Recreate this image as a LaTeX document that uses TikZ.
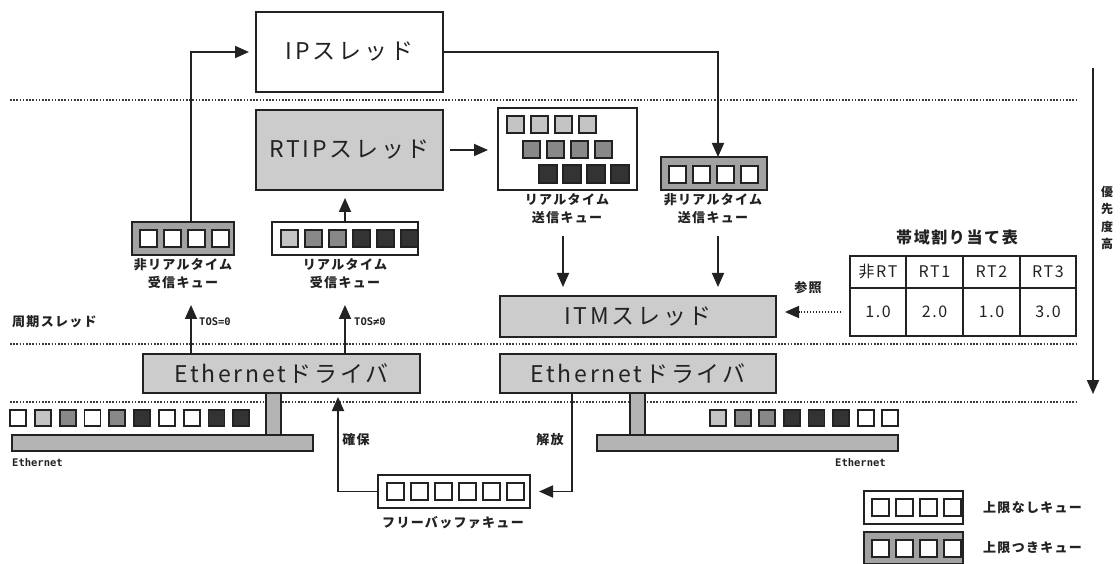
\documentclass[tikz,border=0pt]{standalone}
\usepackage{fontspec}
\setmainfont{Noto Sans CJK JP}
\newfontfamily\jpbig[LetterSpace=12]{Noto Sans CJK JP}
\newfontfamily\jpsm[LetterSpace=10]{Noto Sans CJK JP}
\newfontfamily\monof{DejaVu Sans Mono}
\usetikzlibrary{arrows.meta}
\definecolor{ink}{HTML}{222222}
\definecolor{tone}{HTML}{CCCCCC}
\definecolor{tonedark}{HTML}{A2A2A2}
\definecolor{tonebus}{HTML}{B4B4B4}
\definecolor{sqL}{HTML}{C4C4C4}
\definecolor{sqM}{HTML}{888888}
\definecolor{sqD}{HTML}{333333}
\definecolor{dotc}{HTML}{3A3A3A}
\tikzset{
  box/.style={draw=ink, line width=2.1pt, inner sep=0pt, outer sep=0pt},
  thread/.style={box, fill=tone, text=ink, font=\jpbig\fontsize{23}{24}\selectfont},
  queue/.style={box, minimum height=33pt},
  arr/.style={draw=ink, line width=1.8pt, -{Triangle[length=14pt,width=12pt]}},
  refarr/.style={draw=ink, line width=1.5pt, dash pattern=on 1.5pt off 1.5pt, -{Triangle[length=14pt,width=12pt]}},
  sepline/.style={draw=dotc, line width=1.7pt, dash pattern=on 1.6pt off 1.6pt},
  sqst/.style={draw=ink, line width=1.8pt},
  lbl/.style={font=\jpsm\bfseries\fontsize{13}{18}\selectfont, inner sep=0pt, align=center, text=ink},
  monol/.style={font=\monof\bfseries\fontsize{10.5}{12}\selectfont, inner sep=0pt, text=ink},
  cell/.style={font=\jpsm\fontsize{16}{18}\selectfont, inner sep=0pt, text=ink},
}
\begin{document}
\begin{tikzpicture}[x=1pt,y=-1pt]
\useasboundingbox[fill=white] (0,0) rectangle (1120,564);
% separators
\draw[sepline] (10,100) -- (1077,100);
\draw[sepline] (10,344) -- (1077,344);
\draw[sepline] (10,402) -- (1077,402);
% threads
\node[thread, fill=white, minimum width=187pt, minimum height=80pt] (ip) at (349.5,52) {IPスレッド};
\node[thread, minimum width=187pt, minimum height=80pt] (rtip) at (349.5,150) {RTIPスレッド};
\node[thread, minimum width=276pt, minimum height=41pt] (itm) at (638,316.5) {ITMスレッド};
% ethernet stubs and buses
\node[box, fill=tonebus, line width=1.8pt, minimum width=15pt, minimum height=42pt] (stub1) at (273.5,414) {};
\node[box, fill=tonebus, line width=1.8pt, minimum width=15pt, minimum height=42pt] (stub2) at (637.5,414) {};
\node[box, fill=tonebus, line width=1.8pt, minimum width=301pt, minimum height=16pt] (bus1) at (162.5,443) {};
\node[box, fill=tonebus, line width=1.8pt, minimum width=301pt, minimum height=16pt] (bus2) at (747.5,443) {};
\node[thread, minimum width=277pt, minimum height=39pt] (eth1) at (281.5,373.5) {Ethernetドライバ};
\node[thread, minimum width=276pt, minimum height=39pt] (eth2) at (638,373.5) {Ethernetドライバ};
% queues
\node[queue, minimum width=139pt, minimum height=82pt] (rtsq) at (567.5,149) {};
\node[queue, fill=tonedark, minimum width=106pt] (nsq) at (714,173.5) {};
\node[queue, fill=tonedark, minimum width=102pt] (nrq) at (183,238.5) {};
\node[queue, minimum width=146pt] (rrq) at (345,238.5) {};
\node[queue, minimum width=152pt] (fbq) at (454,491.5) {};
% squares in real-time send queue
\foreach \i in {0,...,3} {
  \draw[sqst, fill=sqL] (507+24*\i,116) rectangle ++(17,17);
  \draw[sqst, fill=sqM] (523+24*\i,141) rectangle ++(17,17);
  \draw[sqst, fill=sqD] (539+24*\i,165) rectangle ++(18,18);
}
% non-real-time send / receive queues
\foreach \i in {0,...,3} {
  \draw[sqst, fill=white] (669+24*\i,166) rectangle ++(17,17);
  \draw[sqst, fill=white] (140+24*\i,230) rectangle ++(17,17);
}
% real-time receive queue
\foreach \i/\c in {0/sqL,1/sqM,2/sqM,3/sqD,4/sqD,5/sqD} {
  \draw[sqst, fill=\c] (281+24*\i,230) rectangle ++(17,17);
}
% free buffer queue
\foreach \i in {0,...,5} {
  \draw[sqst, fill=white] (387+24*\i,483) rectangle ++(17,17);
}
% packets on the left Ethernet
\foreach \i/\c in {0/white,1/sqL,2/sqM,3/white,4/sqM,5/sqD,6/white,7/white,8/sqD,9/sqD} {
  \draw[sqst, fill=\c] (10+24.8*\i,410) rectangle ++(16,16);
}
% packets on the right Ethernet
\foreach \i/\c in {0/sqL,1/sqM,2/sqM,3/sqD,4/sqD,5/sqD,6/white,7/white} {
  \draw[sqst, fill=\c] (710+24.6*\i,410) rectangle ++(16,16);
}
% labels
\node[lbl] (nrql) at (183,274) {非リアルタイム\\受信キュー};
\node[lbl] (rrql) at (345,274) {リアルタイム\\受信キュー};
\node[lbl] (rtsql) at (567,209) {リアルタイム\\送信キュー};
\node[lbl] (nsql) at (713,209) {非リアルタイム\\送信キュー};
\node[lbl, anchor=west] (cyc) at (12,322) {周期スレッド};
\node[monol, anchor=west] (tos0) at (199,322) {TOS=0};
\node[monol, anchor=west] (tos1) at (354,322) {TOS≠0};
\node[lbl] (fbql) at (453,523) {フリーバッファキュー};
\node[lbl] (kakuho) at (356,440) {確保};
\node[lbl] (kaiho) at (550,440) {解放};
\node[lbl] (sansho) at (808,288) {参照};
\node[monol, anchor=west] (ethl1) at (12,463) {Ethernet};
\node[monol, anchor=west] (ethl2) at (835,463) {Ethernet};
% bandwidth table
\node[lbl, font=\jpsm\bfseries\fontsize{16}{18}\selectfont] (ttl) at (957,237) {帯域割り当て表};
\node[box, minimum width=226pt, minimum height=80pt] (tbl) at (963,296) {};
\draw[ink, line width=2.1pt] (850,288) -- (1076,288);
\draw[ink, line width=2.1pt] (906,256) -- (906,336);
\draw[ink, line width=2.1pt] (963,256) -- (963,336);
\draw[ink, line width=2.1pt] (1020,256) -- (1020,336);
\node[cell] (h0) at (878,272) {非RT};
\node[cell] (h1) at (934.5,272) {RT1};
\node[cell] (h2) at (991.5,272) {RT2};
\node[cell] (h3) at (1048,272) {RT3};
\node[cell] (v0) at (878,312) {1.0};
\node[cell] (v1) at (934.5,312) {2.0};
\node[cell] (v2) at (991.5,312) {1.0};
\node[cell] (v3) at (1048,312) {3.0};
% legend
\node[queue, minimum width=99pt] (lg1) at (913.5,507.5) {};
\node[queue, fill=tonedark, minimum width=99pt, minimum height=32pt] (lg2) at (913.5,548) {};
\foreach \i in {0,...,3} {
  \draw[sqst, fill=white] (872+24*\i,499) rectangle ++(17,17);
  \draw[sqst, fill=white] (872+24*\i,540) rectangle ++(17,17);
}
\node[lbl, anchor=west] (lg1t) at (983,508) {上限なしキュー};
\node[lbl, anchor=west] (lg2t) at (983,548) {上限つきキュー};
% priority arrow
\coordinate (ptop) at (1093,68);
\coordinate (pbot) at (1093,394);
\draw[arr] (ptop) -- (pbot);
\node[lbl, font=\jpsm\bfseries\fontsize{12}{17.5}\selectfont] (prio) at (1107,218) {優\\先\\度\\高};
% connectors
\draw[arr, shorten >=7pt] ([xshift=8pt]nrq.north) |- (ip.west);
\draw[arr] (ip.east) -| ([xshift=4pt]nsq.north);
\draw[arr, shorten <=7pt, shorten >=10pt] (rtip.east) -- (rtip.east -| rtsq.west);
\draw[arr, shorten >=8pt] (rrq.north) -- (rrq.north |- rtip.south);
\draw[arr, shorten <=12pt, shorten >=9pt] ([xshift=-4pt]rtsql.south) -- ([xshift=-4pt]rtsql.south |- itm.north);
\draw[arr, shorten <=12pt, shorten >=9pt] ([xshift=5pt]nsql.south) -- ([xshift=5pt]nsql.south |- itm.north);
\coordinate (t0) at (191,305);
\coordinate (t1) at (345,305);
\draw[arr] (eth1.north -| t0) -- (t0);
\draw[arr] (eth1.north -| t1) -- (t1);
\coordinate (tr2) at ([yshift=-16pt]tbl.west);
\draw[refarr, shorten <=9pt, shorten >=9pt] (tr2) -- (tr2 -| itm.east);
\draw[arr, shorten >=9pt] ([xshift=-66pt]eth2.south) |- (fbq.east);
\draw[arr, shorten >=4pt] (fbq.west) -| ([xshift=56.5pt]eth1.south);
\end{tikzpicture}
\end{document}
